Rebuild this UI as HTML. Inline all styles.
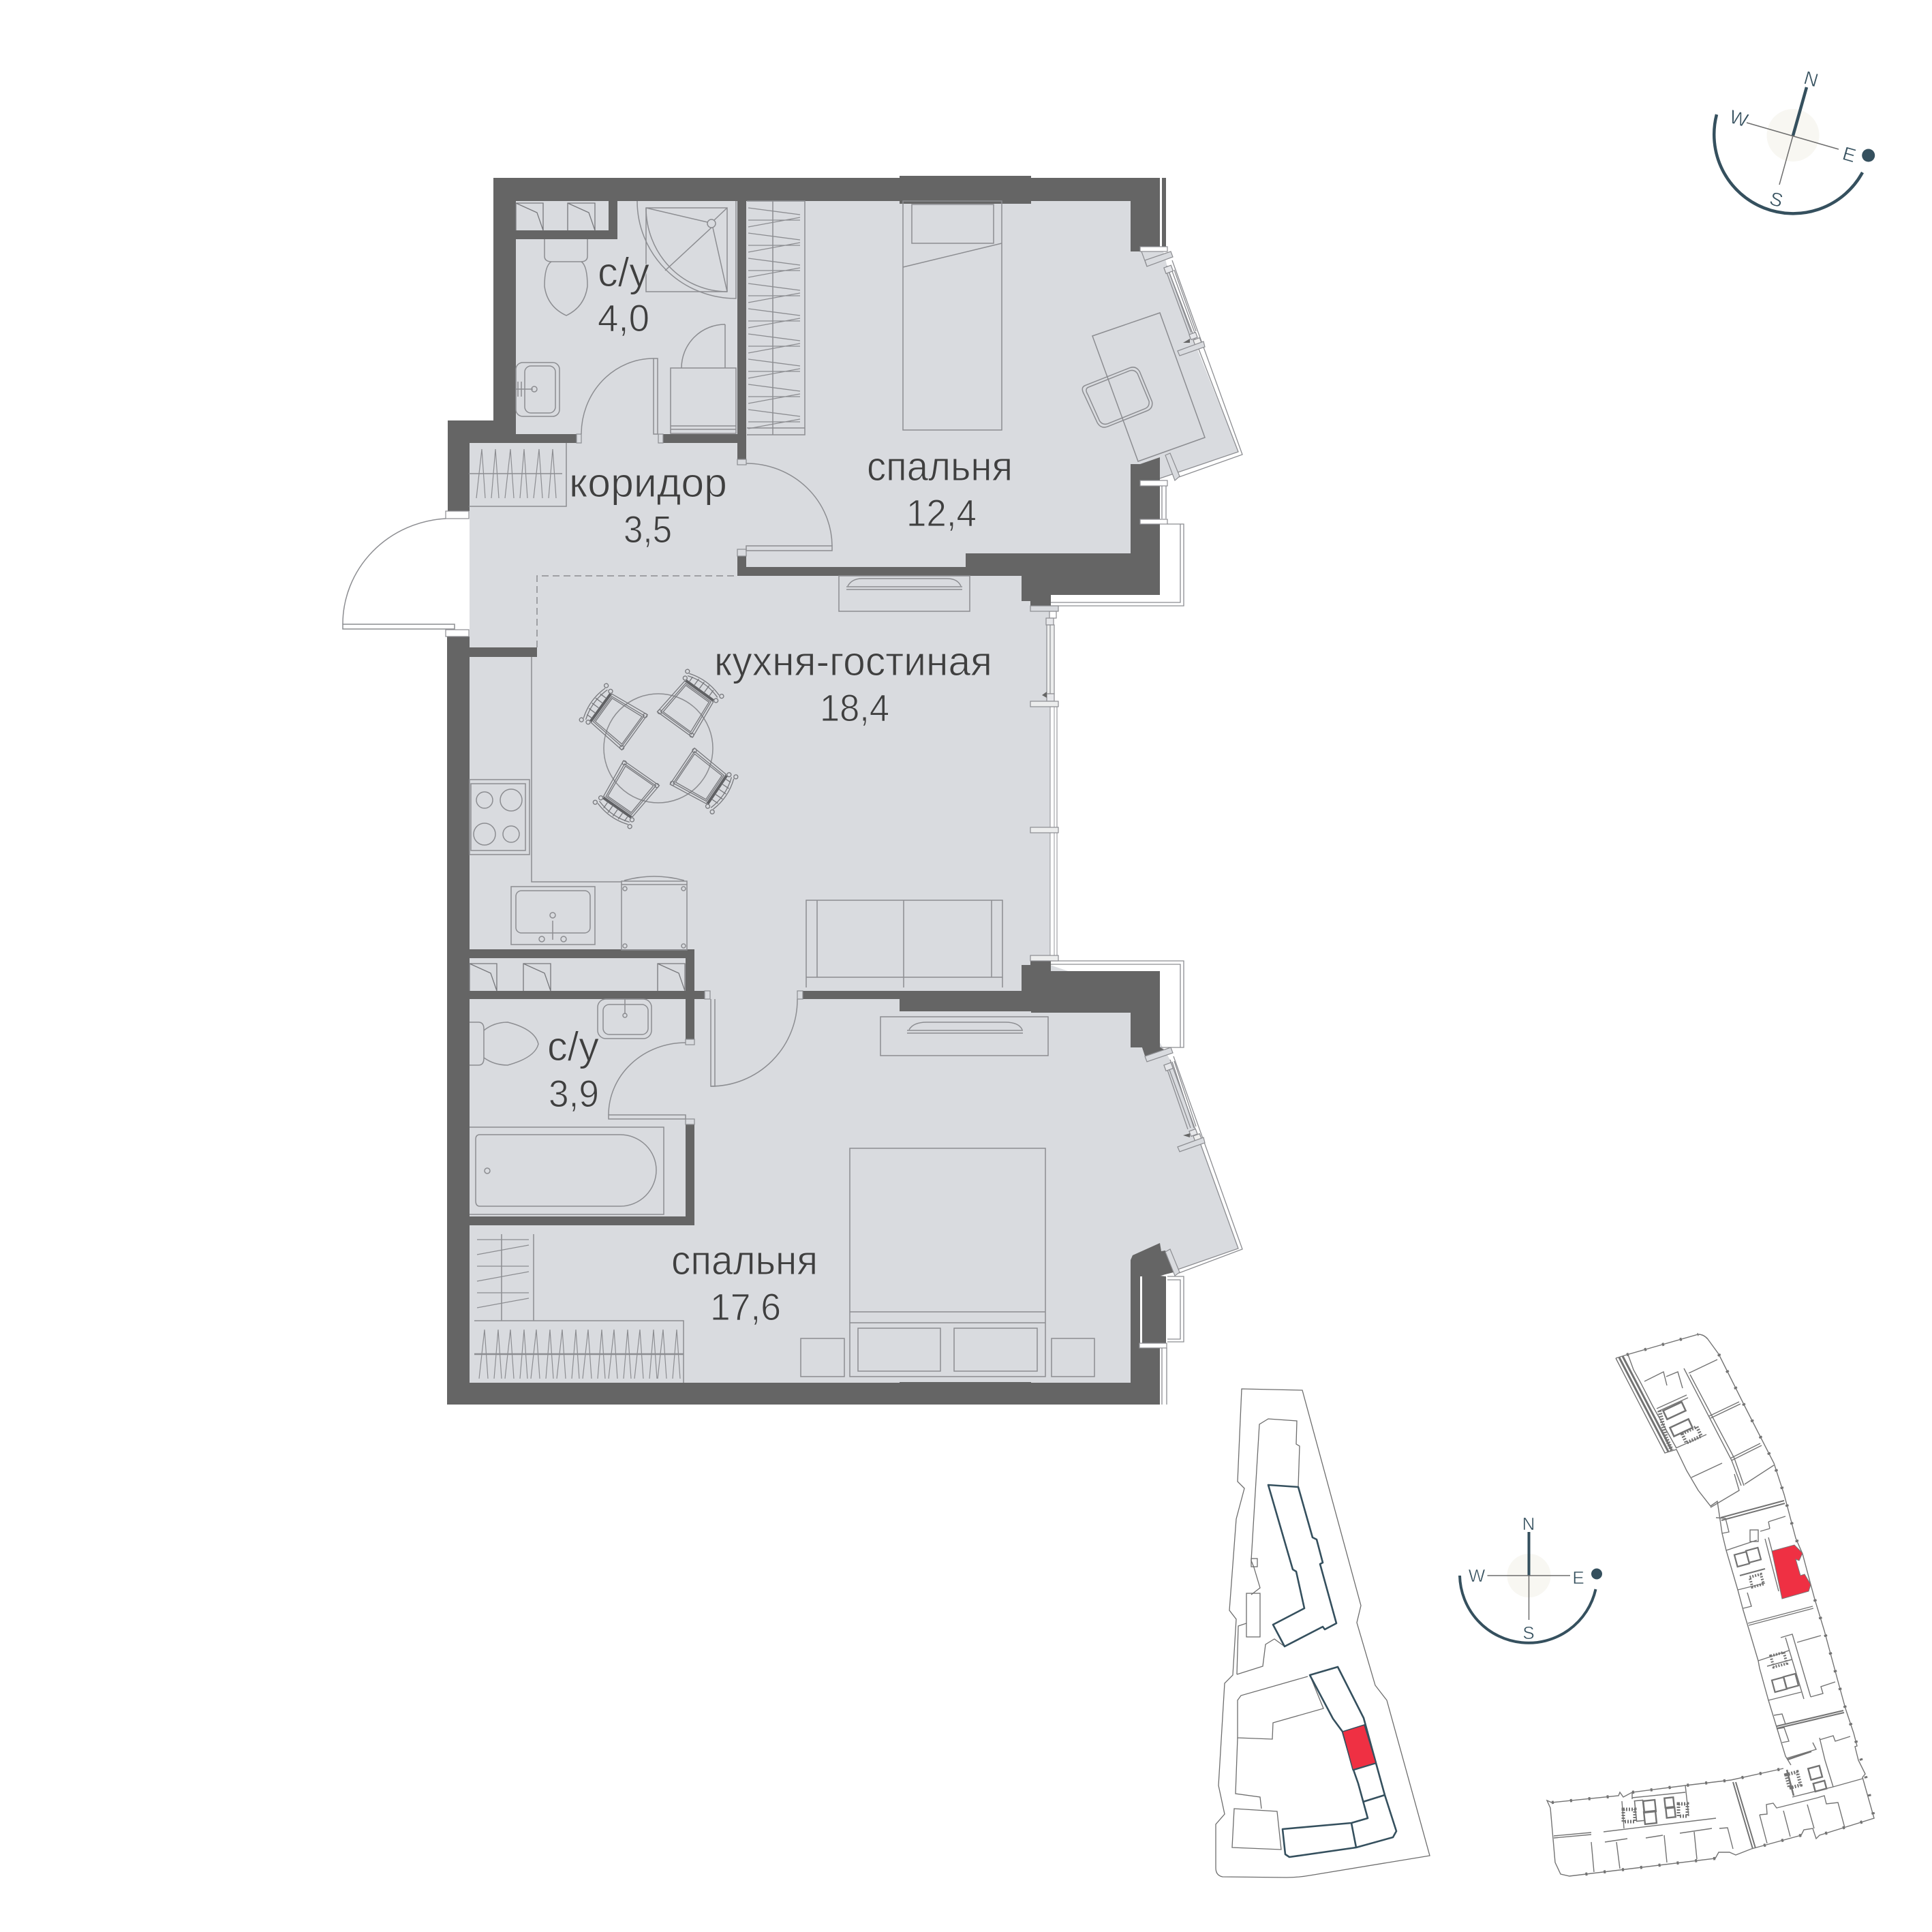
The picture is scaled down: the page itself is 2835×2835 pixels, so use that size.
<!DOCTYPE html>
<html><head><meta charset="utf-8"><style>
html,body{margin:0;padding:0;background:#fff}
svg{display:block}
text{font-family:"Liberation Sans",sans-serif}
</style></head><body>
<svg xmlns="http://www.w3.org/2000/svg" width="2835" height="2835" viewBox="0 0 2835 2835">
<rect width="2835" height="2835" fill="#fff"/>
<defs>
<g id="chair" fill="none" stroke="#77787c" stroke-width="1.3">
<path d="M-26,-30H26L32,30H-32Z"/><path d="M-23,-28H23L28,27H-28Z"/><path d="M-21,-26H21L25,25H-25Z"/>
<path d="M-25,-32H25" stroke="#5f6063" stroke-width="3.5"/>
<path d="M-27,-43Q0,-52 27,-43M-27,-39Q0,-48 27,-39"/>
<path d="M-20,-42V-34M-11,-45V-34M-2,-46V-34M7,-46V-34M16,-44V-34"/>
<circle cx="-28" cy="-34" r="3"/><circle cx="28" cy="-34" r="3"/>
<circle cx="-31" cy="-44" r="3"/><circle cx="31" cy="-44" r="3"/>
<circle cx="-29" cy="28" r="3"/><circle cx="29" cy="28" r="3"/>
</g>
<g id="hang" fill="none" stroke="#8c8d91" stroke-width="1.3"><path d="M0,18H76M0,28L76,14M0,0L76,10"/></g>
<g id="vee" fill="none" stroke="#8c8d91" stroke-width="1.2"><path d="M0,72L8,0L13,72M22,72L28,0L33,72"/></g>
<g id="hh" fill="none" stroke="#8c8d91" stroke-width="1.2"><path d="M0,0H76M0,22L76,8"/></g>
<g id="shaft" fill="none" stroke="#77787c" stroke-width="1.3"><path d="M40,40V0H0V40M0,0L31,14L40,40"/></g>
</defs>

<!-- floor -->
<polygon fill="#d9dbdf" points="724,261 1680,261 1680,362 1704,362 1708,372 1712,388 1758,515 1817,663 1702,702 1659,702 1659,870 1541,870 1541,1416 1640,1450 1702,1530 1708,1540 1717,1555 1760,1672 1817,1832 1702,1872 1659,1870 1659,2040 670,2040 670,950 689,950 689,650 724,650"/>
<!-- glass strip lines bedroom 1 -->
<g fill="none" stroke="#8c8d91" stroke-width="1.3">
<path d="M1720,382L1823,667L1730,700M1712,390L1817,663L1702,702"/>
<path d="M1712,400L1745,490M1715,398L1748,488M1720,398L1753,488M1723,396L1755,486"/>
<rect x="1709" y="391" width="11" height="9" transform="rotate(-20 1714 395)" fill="#e6e7ea"/>
<rect x="1746" y="489" width="10" height="8" transform="rotate(-20 1751 493)" fill="#e6e7ea"/>
<rect x="1752" y="497" width="10" height="8" transform="rotate(-20 1757 501)" fill="#eee"/>
<!-- glass strip lines bedroom 2 -->
<path d="M1722,1550L1823,1833L1730,1868M1717,1555L1817,1832L1702,1872"/>
<path d="M1712,1567L1743,1657M1715,1567L1747,1655M1720,1558L1752,1655M1723,1557L1755,1653"/>
<rect x="1709" y="1561" width="11" height="9" transform="rotate(-20 1714 1565)" fill="#e6e7ea"/>
<rect x="1746" y="1658" width="10" height="8" transform="rotate(-20 1751 1662)" fill="#e6e7ea"/>
<rect x="1752" y="1665" width="10" height="8" transform="rotate(-20 1757 1669)" fill="#eee"/>
<!-- balconies -->
<path d="M1713,769H1737V889H1541M1732,769V884H1541"/>
<path d="M1542,1410H1737V1537H1702M1542,1415H1732V1537"/>
<path d="M1713,1873H1737V1969H1713M1713,1878H1732V1965H1713"/>
<path d="M1705,713V761M1711,713V761"/>
<path d="M1705,1978V2061M1712,1978V2061"/>
</g>
<polygon points="1746,497 1736,503 1746,503" fill="#666"/>
<polygon points="1746,1663 1736,1666 1746,1669" fill="#666"/>
<!-- living window -->
<rect x="1541" y="1037" width="10" height="365" fill="#fff" stroke="#8c8d91" stroke-width="1.2"/>
<rect x="1541" y="1222" width="10" height="180" fill="#fff" stroke="none"/>
<path d="M1547,1037V1402M1541,1037V1402M1551,1037V1402" stroke="#a8a9ad" stroke-width="1.2"/>
<rect x="1540" y="897" width="10" height="10" fill="#fff" stroke="#8c8d91" stroke-width="1.2"/>
<rect x="1535" y="907" width="11" height="10" fill="#e6e7ea" stroke="#8c8d91" stroke-width="1.2"/>
<rect x="1536" y="917" width="11" height="101" fill="#eceded" stroke="#8c8d91" stroke-width="1.2"/>
<path d="M1541,917V1018" stroke="#8c8d91" stroke-width="1.2"/>
<rect x="1536" y="1018" width="11" height="11" fill="#e6e7ea" stroke="#8c8d91" stroke-width="1.2"/>
<polygon points="1529,1020 1536,1015 1536,1024" fill="#666"/>

<!-- walls -->
<g fill="#656565">
<path d="M724,261H1320V258H1513V261H1702V362H1673V369H1659V295H1513V299H1320V295H757V637H846V650H689V750H657V617H724Z"/>
<rect x="1705" y="261" width="6" height="101"/>
<rect x="973" y="637" width="122" height="13"/>
<rect x="1082" y="295" width="13" height="379"/>
<rect x="757" y="338" width="149" height="13"/>
<rect x="893" y="295" width="13" height="56"/>
<path d="M1659,681H1673L1702,671V873H1542V889H1512V882H1499V845H1082V816H1095V832H1417V812H1659Z"/>
<path d="M656,934H689V2029H1320V2028H1513V2029H1659V1849L1662,1842L1702,1824L1704,1836L1710,1835L1722,1867L1702,1872L1711,1873V1971H1702V2061H656Z"/>
<rect x="689" y="950" width="99" height="14"/>
<rect x="689" y="1393" width="330" height="13"/>
<rect x="1006" y="1393" width="13" height="132"/>
<rect x="689" y="1454" width="345" height="12"/>
<rect x="1006" y="1650" width="13" height="148"/>
<rect x="689" y="1785" width="330" height="13"/>
<path d="M1178,1454H1499V1416H1512V1410H1542V1425H1702V1537H1676L1681,1552L1708,1540L1702,1537H1659V1486H1513V1484H1320V1466H1178Z"/>
<polygon points="1659,1537 1702,1537 1708,1540 1681,1552 1676,1537"/>
<rect x="1673" y="1873" width="3" height="98" fill="#fff"/>
</g>
<!-- caps -->
<g fill="#fff" stroke="#8c8d91" stroke-width="1.2">
<rect x="1673" y="362" width="40" height="7"/>
<rect x="1673" y="705" width="40" height="8"/>
<rect x="1673" y="762" width="40" height="7"/>
<rect x="1512" y="889" width="41" height="8" fill="#d9dbdf"/>
<rect x="1512" y="1029" width="41" height="8" fill="#eceded"/>
<rect x="1512" y="1214" width="41" height="8" fill="#eceded"/>
<rect x="1512" y="1402" width="41" height="8" fill="#eceded"/>
<rect x="1672" y="1971" width="40" height="7"/>
<rect x="654" y="750" width="34" height="11"/>
<rect x="654" y="924" width="34" height="10"/>
<rect x="1082" y="674" width="13" height="8" fill="#d9dbdf"/>
<rect x="1082" y="806" width="13" height="10" fill="#d9dbdf"/>
<rect x="846" y="637" width="7" height="13" fill="#d9dbdf"/>
<rect x="966" y="637" width="7" height="13" fill="#d9dbdf"/>
<rect x="1034" y="1454" width="8" height="12" fill="#d9dbdf"/>
<rect x="1170" y="1454" width="8" height="12" fill="#d9dbdf"/>
<rect x="1006" y="1525" width="13" height="8" fill="#d9dbdf"/>
<rect x="1006" y="1642" width="13" height="8" fill="#d9dbdf"/>
<polygon points="1680,382 1718,369 1721,377 1683,391" fill="#d9dbdf"/>
<path d="M1675,369L1683,391" fill="none"/>
<polygon points="1728,515 1766,501 1768,509 1731,522" fill="#d9dbdf"/>
<polygon points="1710,668 1717,665 1731,699 1724,705" fill="#d9dbdf"/>
<polygon points="1680,1550 1718,1537 1721,1545 1683,1558" fill="#d9dbdf"/>
<polygon points="1728,1683 1766,1669 1768,1677 1731,1690" fill="#d9dbdf"/>
<polygon points="1710,1837 1717,1833 1731,1867 1724,1872" fill="#d9dbdf"/>
</g>

<!-- furniture -->
<g fill="none" stroke="#8c8d91" stroke-width="1.5">
<!-- shaft 1 -->
<use href="#shaft" x="757" y="298"/><use href="#shaft" x="833" y="298"/>
<!-- shower -->
<path d="M935,295A145,143 0 0 0 1080,438V295"/>
<rect x="948" y="305" width="119" height="123"/>
<path d="M948,305A119,123 0 0 0 1067,428"/>
<circle cx="1044" cy="328" r="6"/>
<path d="M948,305L1038,326M1044,334L976,397M1067,305L1048,323M1046,334L1067,428"/>
<!-- toilet 1 -->
<path d="M799,351V376Q799,384 810,384H852Q862,384 862,376V351"/>
<path d="M809,384Q799,390 799,420Q803,450 831,463Q858,450 862,420Q862,390 853,384"/>
<!-- sink 1 -->
<rect x="757" y="532" width="64" height="79" rx="10"/>
<rect x="770" y="537" width="45" height="69" rx="9"/>
<path d="M757,571H782"/><circle cx="784" cy="571" r="4"/><path d="M760,560V582M765,560V582"/>
<!-- doors -->
<path d="M959,526A106,111 0 0 0 853,637"/><rect x="959" y="526" width="6" height="111"/>
<rect x="984" y="540" width="96" height="96"/><path d="M984,625H1080M984,630H1080"/>
<path d="M1064,476V540M1064,476A64,64 0 0 0 1000,540"/>
<!-- wardrobe 1 -->
<path d="M1096,295H1181V638H1096M1134,295V638"/>
<use href="#hang" x="1098" y="305"/><use href="#hang" x="1098" y="342"/><use href="#hang" x="1098" y="379"/><use href="#hang" x="1098" y="416"/><use href="#hang" x="1098" y="453"/><use href="#hang" x="1098" y="490"/><use href="#hang" x="1098" y="527"/><use href="#hang" x="1098" y="564"/><use href="#hang" x="1098" y="601"/>
<path d="M1096,628H1181"/>
<!-- bed 1 -->
<rect x="1325" y="295" width="145" height="336"/>
<rect x="1338" y="300" width="120" height="57"/>
<path d="M1325,392L1470,357"/>
<!-- desk -->
<polygon points="1603,493 1702,459 1768,642 1670,677"/>
<g transform="translate(1641,582) rotate(-20)"><path d="M-40,-32Q-48,-32 -46,-20L-42,26Q-40,36 -30,36L32,34Q42,34 44,24L42,-24Q40,-34 30,-34Z"/><path d="M-36,-28Q-43,-28 -41,-18L-38,24Q-36,32 -28,32L30,30Q38,30 40,22L38,-22Q36,-30 28,-30Z"/></g>
<!-- entry door -->
<path d="M503,916A160,155 0 0 1 654,761"/>
<rect x="503" y="916" width="164" height="7" fill="#fff"/>
<!-- entry wardrobe -->
<path d="M688,743H831V650"/><path d="M688,695H825"/>
<use href="#vee" x="699" y="659"/><use href="#vee" x="741" y="659"/><use href="#vee" x="783" y="659"/>
<!-- bedroom door -->
<path d="M1095,680A126,122 0 0 1 1221,801"/><rect x="1095" y="801" width="126" height="7"/>
<!-- tv top -->
<rect x="1231" y="845" width="192" height="52"/>
<path d="M1242,861H1412M1242,865H1412M1244,860Q1250,849 1265,849H1390Q1405,849 1410,860"/>
<!-- table -->
<circle cx="966" cy="1098" r="80"/>
</g>
<use href="#chair" transform="translate(907,1057) rotate(-54)"/>
<use href="#chair" transform="translate(1008,1039) rotate(36)"/>
<use href="#chair" transform="translate(924,1159) rotate(-145)"/>
<use href="#chair" transform="translate(1026,1141) rotate(124)"/>
<g fill="none" stroke="#8c8d91" stroke-width="1.5">
<!-- dashed -->
<path d="M788,950V845H1082" stroke-dasharray="10 6"/>
<!-- kitchen -->
<path d="M780,964V1294H912"/>
<rect x="689" y="1144" width="88" height="110"/>
<rect x="691" y="1150" width="80" height="98"/>
<circle cx="711" cy="1174" r="12"/><circle cx="750" cy="1174" r="16"/><circle cx="711" cy="1224" r="16"/><circle cx="750" cy="1224" r="12"/>
<rect x="750" y="1301" width="123" height="85"/>
<rect x="757" y="1307" width="109" height="62" rx="8"/>
<circle cx="811" cy="1343" r="4"/><path d="M811,1351V1379"/><circle cx="795" cy="1378" r="4"/><circle cx="827" cy="1378" r="4"/>
<rect x="912" y="1298" width="96" height="96"/>
<path d="M912,1298V1293H1008V1298M916,1292Q960,1280 1004,1292"/>
<circle cx="917" cy="1304" r="3"/><circle cx="1003" cy="1304" r="3"/><circle cx="917" cy="1388" r="3"/><circle cx="1003" cy="1388" r="3"/>
<!-- sofa -->
<path d="M1183,1449V1321H1471V1449M1199,1321V1434M1455,1321V1434M1183,1434H1471M1326,1321V1449"/>
<!-- shaft 2 -->
<use href="#shaft" x="689" y="1414"/><use href="#shaft" x="768" y="1414"/><use href="#shaft" x="965" y="1414"/>
<!-- sink 2 -->
<rect x="877" y="1466" width="79" height="58" rx="12"/>
<rect x="885" y="1474" width="66" height="44" rx="9"/>
<path d="M917,1466V1488"/><circle cx="917" cy="1490" r="3"/>
<!-- toilet 2 -->
<path d="M689,1500H702Q710,1500 710,1510V1553Q710,1563 702,1563H689"/>
<path d="M710,1512Q725,1500 745,1500Q785,1510 790,1532Q785,1552 745,1563Q725,1563 710,1552"/>
<!-- bath door -->
<path d="M1006,1530A113,106 0 0 0 893,1636"/><rect x="893" y="1636" width="113" height="6"/>
<!-- tub -->
<path d="M689,1654H974V1782H689"/>
<path d="M704,1665H910A53,52 0 0 1 963,1717A53,53 0 0 1 910,1770H704Q698,1770 698,1762V1672Q698,1665 704,1665Z"/>
<circle cx="715" cy="1718" r="4"/>
<!-- door br2 -->
<path d="M1170,1466A127,127 0 0 1 1043,1594"/><path d="M1043,1466V1594H1049V1466"/>
<!-- tv br2 -->
<rect x="1292" y="1492" width="246" height="57"/>
<path d="M1331,1512H1501M1331,1516H1501M1334,1511Q1340,1500 1360,1500H1475Q1495,1500 1500,1511"/>
<!-- bed 2 -->
<rect x="1247" y="1685" width="287" height="335"/>
<path d="M1247,1925H1534M1247,1941H1534"/>
<rect x="1259" y="1949" width="121" height="63"/><rect x="1400" y="1949" width="122" height="63"/>
<rect x="1175" y="1964" width="64" height="56"/><rect x="1543" y="1964" width="63" height="56"/>
<!-- wardrobes br2 -->
<path d="M736,1811V1938M783,1811V1938M696,1938H1003V2029"/>
<use href="#hh" x="700" y="1819"/><use href="#hh" x="700" y="1858"/><use href="#hh" x="700" y="1897"/>
<path d="M696,1987H1003" stroke-width="2.5"/>
<use href="#vee" x="703" y="1951"/><use href="#vee" x="741" y="1951"/><use href="#vee" x="779" y="1951"/><use href="#vee" x="817" y="1951"/><use href="#vee" x="855" y="1951"/><use href="#vee" x="893" y="1951"/><use href="#vee" x="931" y="1951"/><use href="#vee" x="965" y="1951"/>
</g>

<!-- labels -->
<g fill="#3f3f3f" stroke="#d9dbdf" stroke-width="1" font-size="60">
<text x="877" y="420" textLength="76" lengthAdjust="spacingAndGlyphs">с/у</text>
<text x="877" y="486" font-size="56" textLength="76" lengthAdjust="spacingAndGlyphs">4,0</text>
<text x="835" y="729" textLength="232" lengthAdjust="spacingAndGlyphs">коридор</text>
<text x="915" y="796" font-size="56" textLength="71" lengthAdjust="spacingAndGlyphs">3,5</text>
<text x="1272" y="705" textLength="214" lengthAdjust="spacingAndGlyphs">спальня</text>
<text x="1330" y="772" font-size="56" textLength="103" lengthAdjust="spacingAndGlyphs">12,4</text>
<text x="1048" y="991" textLength="408" lengthAdjust="spacingAndGlyphs">кухня-гостиная</text>
<text x="1203" y="1058" font-size="56" textLength="102" lengthAdjust="spacingAndGlyphs">18,4</text>
<text x="803" y="1556" textLength="76" lengthAdjust="spacingAndGlyphs">с/у</text>
<text x="805" y="1624" font-size="56" textLength="74" lengthAdjust="spacingAndGlyphs">3,9</text>
<text x="985" y="1870" textLength="215" lengthAdjust="spacingAndGlyphs">спальня</text>
<text x="1042" y="1937" font-size="56" textLength="104" lengthAdjust="spacingAndGlyphs">17,6</text>
</g>

<!-- top compass -->
<g>
<circle cx="2631" cy="198.5" r="38.5" fill="#f8f7f2"/>
<path d="M2519,168A116,116 0 0 0 2733,253" fill="none" stroke="#35505e" stroke-width="4.5"/>
<path d="M2651,128L2631,199" stroke="#35505e" stroke-width="4.5"/>
<path d="M2563,180L2698,219M2631,199L2611,271" stroke="#6d6d6d" stroke-width="1.5"/>
<circle cx="2741.7" cy="228" r="9.5" fill="#35505e"/>
<g fill="#35505e" stroke="#fff" stroke-width=".5" font-size="28" text-anchor="middle">
<text transform="translate(2655,125) rotate(16)">N</text>
<text transform="translate(2549,183) rotate(16)">W</text>
<text transform="translate(2711,236) rotate(16)">E</text>
<text transform="translate(2604,302) rotate(16)">S</text>
</g>
</g>

<!-- bottom compass -->
<g>
<ellipse cx="2243.5" cy="2312" rx="32" ry="32" fill="#f8f7f2"/>
<path d="M2142,2312A101,101 0 0 0 2341.5,2332" fill="none" stroke="#35505e" stroke-width="4"/>
<path d="M2243.5,2248V2312" stroke="#35505e" stroke-width="4"/>
<path d="M2182.5,2312H2304M2243.5,2312V2377" stroke="#6d6d6d" stroke-width="1.5"/>
<circle cx="2343" cy="2309.5" r="8" fill="#35505e"/>
<g fill="#35505e" stroke="#fff" stroke-width=".5" font-size="26" text-anchor="middle">
<text x="2243" y="2245">N</text>
<text x="2167" y="2321">W</text>
<text x="2316" y="2324">E</text>
<text x="2243" y="2405">S</text>
</g>
</g>

<!-- site plan -->
<g fill="none" stroke="#6d6d6d" stroke-width="1.3">
<path d="M1822,2038L1911,2040L1997,2356L1991,2381L2018,2473L2035,2495L2098,2723L1922,2752Q1905,2755 1888,2755L1794,2754Q1784,2752 1784,2741V2677L1797,2662L1788,2620L1797,2470L1809,2458L1814,2376L1804,2363L1814,2229L1826,2184L1816,2174Z"/>
<path d="M1815,2457L1817,2386L1829,2382M1836,2340L1849,2330L1840,2300L1836,2290L1848,2090L1861,2082L1903,2085L1902,2119L1907,2122L1905,2182"/>
<path d="M1815,2457L1853,2445L1857,2413L1870,2405L1885,2416"/>
<rect x="1829" y="2338" width="20" height="64"/><rect x="1836" y="2287" width="9" height="12"/>
<path d="M1919,2460L1821,2488L1816,2495V2550L1867,2552L1868,2528L1942,2507L1922,2458"/>
<path d="M1816,2550L1813,2632L1849,2637L1851,2654"/>
<polygon points="1811,2654 1874,2658 1880,2714 1808,2711"/>
</g>
<g fill="none" stroke="#35505e" stroke-width="2.6" stroke-linejoin="round">
<polygon points="1861,2179 1905,2182 1926,2256 1932,2259 1941,2293 1937,2295 1961,2382 1944,2391 1941,2387 1885,2416 1868,2384 1914,2360 1902,2306 1897,2303"/>
<path d="M1922,2458L1963,2446L2001,2521L2019,2587L2032,2634L2049,2687L2044,2696L1990,2711L1892,2725L1886,2721L1882,2684L1983,2675L2007,2668L1993,2617L1986,2597L1970,2541L1956,2522Z"/>
<path d="M1983,2675L1990,2711M2000,2644L2032,2634M1986,2597L2019,2587"/>
</g>
<polygon points="1970,2541 2002,2531 2019,2587 1985,2597" fill="#ef3043" stroke="#35505e" stroke-width="1.5"/>

<!-- right floor plan -->
<g fill="none" stroke="#737373" stroke-width="1.4">
<!-- outer -->
<path d="M2371,1993L2387,1988L2492,1958Q2500,1958 2506,1965L2522,1987L2562,2067L2603,2147L2618,2193L2635,2257L2645,2280L2657,2325L2663,2347L2677,2393L2697,2467L2708,2507L2720,2543L2725,2562L2722,2563L2727,2583L2737,2603L2733,2608L2750,2668L2670,2693L2665,2698L2660,2683L2647,2685L2643,2693L2570,2713L2547,2722L2538,2718L2522,2718L2517,2727L2303,2753L2290,2750L2282,2733L2275,2653L2270,2642L2277,2645L2375,2635L2377,2630L2382,2637L2395,2630L2473,2620L2540,2612L2617,2595"/>
<path stroke-width="4.5" stroke-dasharray="3 24" d="M2387,1988L2492,1958M2522,1987L2562,2067L2603,2147L2618,2193L2635,2257L2645,2280M2663,2347L2677,2393L2697,2467L2708,2507L2720,2543L2737,2603L2750,2668L2670,2693M2643,2693L2570,2713M2517,2727L2303,2753M2277,2645L2375,2635M2395,2630L2473,2620L2540,2612L2617,2595"/>
<!-- mid & top inner edge -->
<path d="M2371,1993L2443,2132L2460,2127L2475,2158L2492,2187L2510,2210L2520,2203L2527,2250L2533,2275L2550,2333L2558,2363L2580,2437L2582,2448L2595,2495L2620,2577L2628,2590"/>
<!-- top wing -->
<path d="M2376,1992L2448,2130M2381,1990L2453,2128" stroke-width="3"/>
<path d="M2435,2070L2445,2110L2453,2128" stroke-width="6" stroke-dasharray="2 2"/>
<path d="M2389,1988L2397,2010L2408,2030L2425,2063L2460,2125"/>
<path d="M2480,2017L2545,2140L2559,2180M2471,2008L2541,2143L2555,2180"/>
<path d="M2478,2015L2520,1995M2508,2078L2552,2057M2510,2081L2554,2060M2539,2140L2583,2118M2541,2143L2585,2121M2482,2168L2527,2147M2560,2178L2603,2150M2459,2125L2504,2105M2510,2212L2552,2187L2545,2163"/>
<path d="M2413,2027L2441,2013L2446,2033M2445,2020L2462,2013L2469,2037M2431,2067L2475,2047M2433,2071L2477,2051"/>
<rect x="2442" y="2063" width="30" height="14" transform="rotate(-25 2457 2070)" stroke-width="2.5"/>
<rect x="2452" y="2088" width="30" height="14" transform="rotate(-25 2467 2095)" stroke-width="2.5"/>
<rect x="2470" y="2098" width="24" height="15" transform="rotate(-25 2482 2105)" stroke-width="5" stroke-dasharray="2 2"/>
<!-- upper mid wing -->
<path d="M2525,2227L2618,2202M2526,2231L2619,2206" stroke-width="2"/>
<path d="M2518,2227L2532,2228L2537,2248L2527,2250M2595,2233L2620,2225M2597,2243L2595,2233M2583,2247L2597,2243"/>
<rect x="2568" y="2245" width="12" height="17"/>
<path d="M2533,2275L2578,2260M2590,2258L2610,2335M2595,2256L2616,2335M2550,2333L2590,2323M2558,2360L2570,2357L2564,2337"/>
<rect x="2547" y="2279" width="18" height="18" transform="rotate(-15 2556 2288)" stroke-width="2.2"/>
<rect x="2564" y="2273" width="18" height="18" transform="rotate(-15 2573 2282)" stroke-width="2.2"/>
<path d="M2553,2312L2590,2302" stroke-width="2.2"/>
<rect x="2569" y="2312" width="17" height="15" transform="rotate(-15 2577 2319)" stroke-width="4" stroke-dasharray="2 2"/>
<!-- lower mid wing -->
<path d="M2565,2382L2660,2357M2566,2385L2661,2360" stroke-width="1.4"/>
<path d="M2637,2410L2672,2400M2580,2437L2625,2422M2595,2495L2643,2483M2613,2403L2630,2398L2657,2490M2620,2403L2647,2493M2657,2490L2675,2485L2672,2475L2693,2468"/>
<rect x="2602" y="2463" width="18" height="18" transform="rotate(-15 2611 2472)" stroke-width="2.2"/>
<rect x="2619" y="2458" width="18" height="18" transform="rotate(-15 2628 2467)" stroke-width="2.2"/>
<path d="M2593,2445L2630,2435" stroke-width="1.5"/>
<rect x="2600" y="2427" width="20" height="17" transform="rotate(-15 2610 2435)" stroke-width="4" stroke-dasharray="2 2"/>
<path d="M2607,2533L2705,2510M2608,2536L2706,2513" stroke-width="2"/>
<path d="M2670,2553L2690,2547L2693,2555L2715,2548M2603,2517L2615,2515L2620,2530M2607,2537L2618,2535L2625,2555L2615,2557M2622,2580L2665,2567L2660,2557"/>
<!-- corner -->
<path d="M2622,2597L2632,2635M2623,2582L2658,2570" stroke-width="2.5"/>
<path d="M2630,2637L2690,2622L2733,2610M2678,2583L2690,2622M2670,2550L2678,2583"/>
<rect x="2623" y="2602" width="17" height="20" transform="rotate(-15 2631 2612)" stroke-width="5" stroke-dasharray="2 2"/>
<rect x="2655" y="2593" width="17" height="17" transform="rotate(-15 2663 2601)" stroke-width="2.4"/>
<rect x="2662" y="2615" width="17" height="12" transform="rotate(-15 2670 2621)" stroke-width="2.4"/>
<path d="M2582,2663L2593,2705M2582,2663L2593,2662L2592,2648L2602,2646L2607,2653L2667,2638L2677,2635L2680,2647L2697,2645L2707,2682M2617,2657L2627,2695M2652,2648L2662,2683"/>
<!-- bottom wing -->
<path d="M2543,2615L2572,2713M2547,2615L2576,2712" stroke-width="2"/>
<path d="M2280,2697L2335,2692M2280,2694L2335,2689M2353,2688L2518,2668M2355,2703L2388,2698M2415,2697L2440,2693M2465,2690L2512,2683M2523,2683L2535,2682L2543,2713"/>
<path d="M2335,2703L2339,2747M2372,2703L2377,2742M2442,2693L2446,2733M2486,2688L2490,2728M2380,2643L2383,2683M2395,2630V2640M2395,2638L2473,2630M2473,2620L2478,2665"/>
<rect x="2412" y="2642" width="17" height="17" transform="rotate(-6 2420 2650)" stroke-width="2.4"/>
<rect x="2413" y="2658" width="17" height="18" transform="rotate(-6 2421 2667)" stroke-width="2.4"/>
<rect x="2400" y="2642" width="12" height="30" transform="rotate(-6 2406 2657)" stroke-width="1.6"/>
<rect x="2443" y="2638" width="13" height="14" transform="rotate(-6 2449 2645)" stroke-width="2.4"/>
<rect x="2445" y="2653" width="13" height="14" transform="rotate(-6 2451 2660)" stroke-width="2.4"/>
<rect x="2382" y="2655" width="17" height="18" stroke-width="5" stroke-dasharray="2 2"/>
<rect x="2463" y="2647" width="13" height="18" stroke-width="5" stroke-dasharray="2 2"/>
</g>
<polygon points="2600,2276 2633,2267 2645,2279 2640,2290 2635,2288 2642,2312 2648,2310 2657,2325 2654,2335 2615,2346" fill="#ef3043" stroke="#777" stroke-width="1"/>
</svg>
</body></html>
